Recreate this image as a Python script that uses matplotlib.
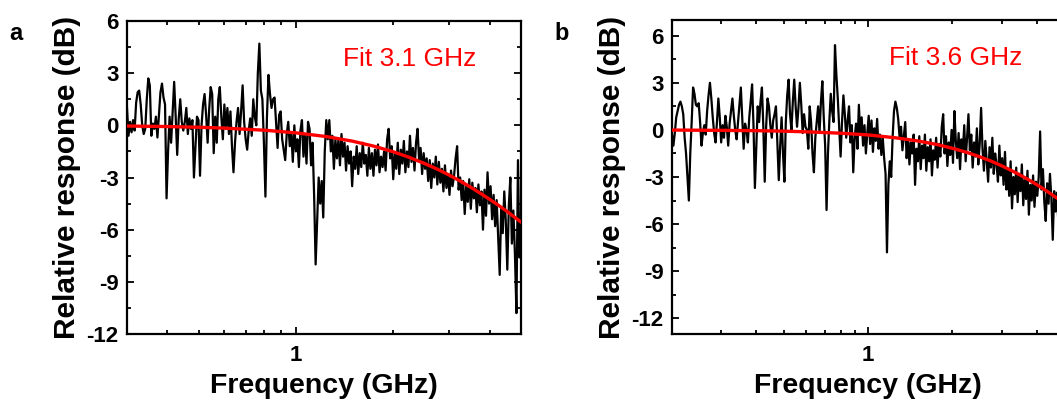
import numpy as np
import matplotlib
matplotlib.use('Agg')
import matplotlib.pyplot as plt
from matplotlib.ticker import FixedLocator, NullFormatter, MultipleLocator

plt.rcParams['font.family'] = ['Liberation Sans', 'DejaVu Sans']

# ---- measured response, panel a (sweep 0.3-5 GHz) ----
sweep_a = (0.3, 5.0)
resp_a = [
    1.0, -0.6, 0.2, -0.4, 0.3, -0.3, 1.3, 1.9, 2.0, 1.2,
    0.0, -0.5, -0.2, 1.5, 2.7, 2.3, -0.6, 0.1, -0.2, 0.5,
    -0.7, 0.6, 1.9, 2.4, 1.6, 1.2, -4.2, -1.5, 0.5, -1.0,
    0.8, 2.5, 0.5, -1.7, 0.4, 1.5, 0.2, -0.3, 0.2, 1.0,
    -0.5, 0.4, -0.2, 0.3, -3.0, -1.2, 0.5, 0.3, -2.9, 0.0,
    1.2, 1.8, 0.6, -1.0, 0.9, 2.2, 1.8, -1.6, 0.5, -1.0,
    1.5, 2.2, 0.5, -0.8, 1.2, -0.2, 1.0, -0.5, 0.8, -1.2,
    -2.7, -1.0, 0.2, 1.0, -0.5, 0.8, 2.3, 0.2, -0.8, -1.4,
    -0.3, 0.4, -0.6, 1.5, 0.5, 0.0, 3.0, 4.7, 2.0, 1.5,
    -1.0, -4.1, 0.5, 2.9, 1.8, 1.0, 1.5, 1.6, 0.2, -1.3,
    0.6, 0.8, -0.8, -1.4, -2.0, -0.5, 0.2, -1.2, -0.4, -2.1,
    0.0, -1.5, -0.8, -2.4, -0.3, 0.3, -1.8, -0.5, -2.2, 0.2,
    -0.2, -2.3, -1.0, -4.0, -8.0, -5.5, -3.0, -4.5, -3.2, -5.3,
    -1.5, 0.3, -0.8, 0.3, -1.5, -0.6, -2.5, -0.8, -1.9, -0.8,
    -2.3, -0.5, -1.8, -1.0, -2.6, -1.2, -2.2, -1.5, -3.5, -1.8,
    -2.5, -1.2, -2.8, -1.6, -2.4, -1.0, -2.2, -1.7, -2.9, -1.3,
    -2.5, -1.6, -2.9, -1.4, -2.3, -1.1, -2.7, -1.8, -2.4, -1.5,
    -2.6, -0.8, -0.2, -1.9, -1.2, -3.1, -1.6, -2.5, -1.0, -2.8,
    -1.4, -2.2, -0.9, -2.7, -1.5, -2.4, -0.6, -2.1, -1.3, -2.6,
    -1.0, -0.2, -2.0, -1.3, -2.8, -1.6, -2.5, -1.9, -3.2, -2.0,
    -3.6, -2.2, -3.0, -1.8, -3.4, -2.1, -3.3, -2.5, -3.8, -2.3,
    -3.6, -2.8, -4.0, -2.6, -3.5, -2.9, -1.9, -1.2, -3.7, -3.0,
    -4.3, -3.2, -5.1, -3.5, -4.4, -3.1, -4.8, -3.3, -4.2, -3.6,
    -5.0, -3.4, -4.6, -3.8, -6.0, -3.7, -5.2, -2.7, -4.5, -3.5,
    -5.4, -4.0, -5.8, -4.3, -6.5, -8.6, -4.7, -6.2, -3.8, -5.5,
    -8.3, -4.6, -3.0, -6.8, -4.9, -7.4, -10.8, -2.0, -7.6, -6.5,
]

# ---- measured response, panel b (sweep 0.2-5 GHz) ----
sweep_b = (0.2, 5.0)
resp_b = [
    -0.3, -1.0, -0.2, 0.8, 1.2, 1.6, 1.8, 1.5, 1.0, -0.5,
    -1.5, -3.0, -4.5, -1.5, 0.5, 2.7, 2.3, 1.6, 1.5, 1.7,
    0.5, -1.0, -0.2, 0.3, -0.3, 1.2, 2.2, 3.0, 2.0, 0.8,
    -0.2, -0.8, 0.5, 2.0, 0.8, -0.8, 0.3, -0.5, 0.9, 0.2,
    -1.0, 0.4, 1.2, 2.0, 0.9, 0.0, -0.6, 0.5, 1.6, 2.7,
    0.8, -1.2, 0.4, 0.0, -0.8, 0.8, 1.8, 2.9, 0.3, -3.7,
    -1.0, 1.5, 0.5, 1.8, 2.7, 0.2, -3.3, 0.2, 2.0, 1.5,
    0.3, -0.5, 0.6, 1.0, 1.5, -0.8, -3.2, -1.0, 0.8, -1.5,
    -3.3, 0.5, 2.2, 3.2, 1.0, 0.0, 1.8, 3.2, 1.5, 0.2,
    1.4, 3.0, 1.6, -0.2, 1.0, 0.2, 0.0, -1.2, 1.5, 0.5,
    -1.5, -2.7, -0.5, 0.5, 1.5, -0.2, 1.8, 3.1, 0.8, -1.0,
    -5.1, -1.5, 0.6, 2.3, 1.2, 0.5, 5.4, 3.5, 2.0, 0.2,
    -1.7, 0.5, 2.2, 1.0, -0.5, 0.6, 1.5, -0.8, 0.3, -2.7,
    -0.5, 0.4, -1.2, 1.6, -0.3, 0.8, -1.0, 0.3, -1.5, -0.2,
    0.9, -0.9, 0.6, -1.4, 0.1, -0.7, 0.7, -1.2, -0.3, -1.6,
    -0.5, -1.8, -2.8, -7.8, -3.5, -2.0, -3.0, -0.5, 1.2, 1.8,
    1.4, 0.7, -0.5, 0.2, -1.3, -0.4, 0.5, -1.8, -0.6, -2.2,
    -0.8, -1.5, -0.3, -3.5, -1.2, -2.0, -0.4, -2.5, -1.0, -1.8,
    -0.3, -2.6, -1.1, -2.0, -0.6, -2.9, -1.3, -1.9, -0.5, -2.4,
    -0.9, -1.7, 0.2, 1.0, -1.5, -0.4, -2.3, -0.8, -1.6, 0.0,
    -2.1, 1.2, -0.7, -1.8, -0.2, -2.5, -0.6, -1.4, 0.3, -2.0,
    -0.5, 1.0, -1.3, -0.3, -2.4, -0.8, -1.7, 0.1, -2.2, -0.9,
    1.4, -1.2, -2.6, -0.7, -2.0, -3.3, -1.1, -2.4, -0.5, -2.8,
    -1.5, -2.2, -3.3, -1.0, -2.9, -1.8, -3.5, -1.4, -3.8, -2.5,
    -4.2, -2.0, -5.0, -3.0, -4.1, -2.4, -4.6, -2.8, -3.9, -2.2,
    -4.8, -3.2, -4.4, -2.6, -5.4, -3.5, -4.5, -2.9, -4.9, -3.3,
    -4.2, -3.0, -0.1, -3.8, -2.5, -4.6, -5.8, -3.4, -4.7, -2.8,
    -4.3, -7.0, -3.9, -5.2, -4.0, -6.0, -4.5, -5.5, -4.8, -6.2,
]

# ---- fitted roll-off curves ----
fit_a_freq = [0.3, 0.4, 0.5, 0.6, 0.8, 1.0, 1.25, 1.5, 1.75, 2.0, 2.25,
              2.5, 2.75, 3.0, 3.25, 3.5, 3.75, 4.0, 4.25, 4.5, 4.75, 5.0]
fit_a_db = [-0.04, -0.07, -0.11, -0.16, -0.28, -0.43, -0.65, -0.91, -1.20,
            -1.51, -1.84, -2.18, -2.52, -2.87, -3.22, -3.57, -3.92, -4.26,
            -4.59, -4.92, -5.25, -5.56]
fit_b_freq = [0.2, 0.3, 0.4, 0.5, 0.6, 0.8, 1.0, 1.25, 1.5, 1.75, 2.0, 2.25,
              2.5, 2.75, 3.0, 3.25, 3.5, 3.75, 4.0, 4.25, 4.5, 4.75, 5.0]
fit_b_db = [-0.01, -0.03, -0.05, -0.08, -0.12, -0.21, -0.32, -0.50, -0.70,
            -0.92, -1.17, -1.43, -1.71, -1.99, -2.29, -2.59, -2.89, -3.19,
            -3.49, -3.79, -4.09, -4.38, -4.67]

labels = ['a', 'b']
fit_texts = ['Fit 3.1 GHz', 'Fit 3.6 GHz']
yticks = [-12, -9, -6, -3, 0, 3, 6]
xminor = [0.2, 0.3, 0.4, 0.5, 0.6, 0.7, 0.8, 0.9, 2, 3, 4]

W, H = 1057, 405
fig = plt.figure(figsize=(W / 100, H / 100), dpi=100)

panels = [
    dict(rect=[127 / W, 1 - 334 / H, 394 / W, 313 / H], sweep=sweep_a, resp=resp_a,
         ff=fit_a_freq, fd=fit_a_db, ylim=(-12, 6), lab_x=16 / W, text_x=0.548),
    dict(rect=[672 / W, 1 - 334 / H, 392 / W, 314 / H], sweep=sweep_b, resp=resp_b,
         ff=fit_b_freq, fd=fit_b_db, ylim=(-13, 7), lab_x=562 / W, text_x=0.553),
]

for k, p in enumerate(panels):
    ax = fig.add_axes(p['rect'])
    f = np.geomspace(p['sweep'][0], p['sweep'][1], len(p['resp']))
    ax.plot(f, p['resp'], color='black', lw=1.6, zorder=2)
    ax.plot(p['ff'], p['fd'], color='#ff0000', lw=2.4, zorder=3)
    ax.set_xscale('log')
    ax.set_xlim(*p['sweep'])
    ax.set_ylim(*p['ylim'])
    ax.xaxis.set_major_locator(FixedLocator([1]))
    ax.set_xticklabels(['1'])
    ax.xaxis.set_minor_locator(FixedLocator([v for v in xminor if v > p['sweep'][0]]))
    ax.xaxis.set_minor_formatter(NullFormatter())
    ax.yaxis.set_major_locator(FixedLocator(yticks))
    ax.set_yticklabels([str(v) for v in yticks])
    ax.yaxis.set_minor_locator(MultipleLocator(1.5))
    ax.tick_params(which='both', direction='in', top=True, right=True, width=1.3)
    ax.tick_params(which='major', length=5, labelsize=16, pad=6)
    ax.tick_params(axis='x', which='major', pad=8)
    ax.tick_params(which='minor', length=3)
    for t in ax.get_xticklabels() + ax.get_yticklabels():
        t.set_fontweight('bold')
    for s in ax.spines.values():
        s.set_linewidth(1.6)
    ax.set_xlabel('Frequency (GHz)', fontsize=20.5, fontweight='bold', labelpad=5)
    ax.set_ylabel('Relative response (dB)', fontsize=21.5, fontweight='bold', labelpad=4)
    ax.text(p['text_x'], 0.88, fit_texts[k], transform=ax.transAxes, color='#ff0000',
            fontsize=19, ha='left', va='center')
    fig.text(p['lab_x'], 1 - 33 / H, labels[k], fontsize=17, fontweight='bold',
             ha='center', va='center')

fig.savefig('out.png', dpi=100)
